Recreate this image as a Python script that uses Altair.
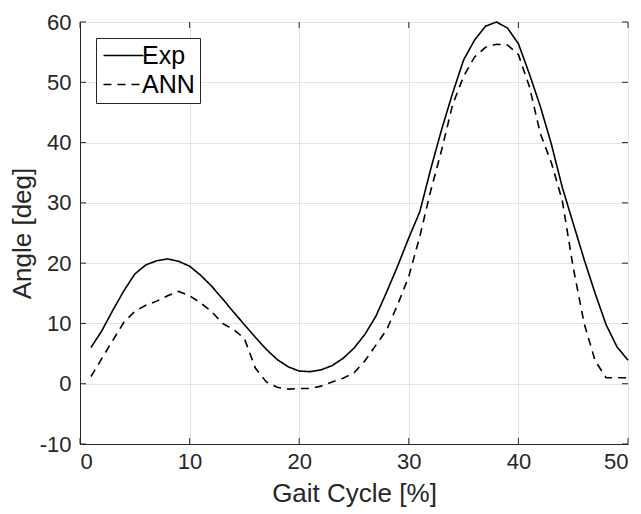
import altair as alt
import pandas as pd

gait = list(range(1, 51))
exp_vals = [6.0, 8.8, 12.2, 15.4, 18.2, 19.7, 20.4, 20.7, 20.3, 19.5,
            18.0, 16.2, 14.1, 11.9, 9.8, 7.7, 5.7, 4.0, 2.8, 2.1,
            2.0, 2.3, 3.0, 4.2, 5.9, 8.2, 11.2, 15.3, 19.6, 24.2,
            28.5, 35.6, 42.2, 48.2, 53.7, 57.0, 59.3, 60.0, 59.0, 56.4,
            51.4, 46.0, 39.8, 32.6, 26.6, 20.6, 15.0, 9.8, 6.1, 3.9]
ann_vals = [1.2, 4.2, 7.2, 10.2, 12.0, 13.0, 13.7, 14.6, 15.3, 14.6,
            13.4, 12.0, 10.0, 9.0, 7.5, 2.6, 0.3, -0.6, -0.9, -0.8,
            -0.8, -0.4, 0.3, 0.9, 1.8, 3.8, 6.4, 9.0, 13.2, 17.8,
            24.4, 32.0, 38.8, 46.3, 51.0, 54.2, 55.8, 56.3, 56.2, 54.6,
            49.3, 41.5, 36.7, 30.4, 19.3, 10.0, 3.8, 1.0, 1.0, 1.0]
series_names = ["Exp", "ANN"]
x_ticks = [0, 10, 20, 30, 40, 50]
y_ticks = [-10, 0, 10, 20, 30, 40, 50, 60]

W, H = 548, 422
FONT = "Liberation Sans"
TXT = "#262626"
AX = "#262626"

df = pd.DataFrame({
    "x": gait * 2,
    "y": exp_vals + ann_vals,
    "series": ["Exp"] * len(gait) + ["ANN"] * len(gait),
})
xt = pd.DataFrame({"x": x_ticks})
yt = pd.DataFrame({"y": y_ticks})

xscale = alt.Scale(domain=[0, 50], nice=False, zero=False)
yscale = alt.Scale(domain=[-10, 60], nice=False, zero=False)

xaxis = alt.Axis(
    values=x_ticks, title="Gait Cycle [%]", grid=True, ticks=False,
    labelPadding=7, labelExpr="'' + datum.value",
    titleX=W / 2, titleY=49, titleBaseline="middle", titleAnchor="middle")
yaxis = alt.Axis(
    values=y_ticks, title="Angle [deg]", grid=True, ticks=False,
    labelPadding=9, labelExpr="'' + datum.value",
    titleX=-58, titleY=H / 2, titleBaseline="middle", titleAnchor="middle")

X = alt.X("x:Q", scale=xscale, axis=xaxis)
Y = alt.Y("y:Q", scale=yscale, axis=yaxis)

lines = alt.Chart(df).mark_line(color="black", strokeWidth=1.6).encode(
    x=X, y=Y,
    strokeDash=alt.StrokeDash("series:N", scale=alt.Scale(
        domain=series_names, range=[[1, 0], [8, 6]]),
        legend=alt.Legend(
            title=None, orient="top-left", offset=16, padding=5,
            strokeColor=AX, fillColor="white", cornerRadius=0,
            labelFontSize=25, labelFont=FONT, labelColor="black",
            symbolType="M-1,0L3,0", symbolSize=400, symbolStrokeWidth=1.5,
            symbolStrokeColor="black", labelOffset=16, rowPadding=3)),
    order="x:Q",
)

xb = alt.Chart(xt).mark_rule(color=AX).encode(x=X, y=alt.value(H), y2=alt.value(H - 6))
xtop = alt.Chart(xt).mark_rule(color=AX).encode(x=X, y=alt.value(0), y2=alt.value(6))
yl = alt.Chart(yt).mark_rule(color=AX).encode(y=Y, x=alt.value(0), x2=alt.value(6))
yr = alt.Chart(yt).mark_rule(color=AX).encode(y=Y, x=alt.value(W), x2=alt.value(W - 6))

chart = alt.layer(lines, xb, xtop, yl, yr).properties(
    width=W, height=H,
    background="white",
    autosize=alt.AutoSizeParams(type="none"),
    padding={"left": 72, "top": 14, "right": 5, "bottom": 70},
).configure_view(
    stroke=AX, strokeWidth=1
).configure_axis(
    domainColor=AX, domainWidth=1,
    gridColor="#e3e3e3", gridWidth=1,
    labelFont=FONT, labelFontSize=22, labelColor=TXT,
    titleFont=FONT, titleFontSize=26, titleColor=TXT, titleFontWeight="normal",
)

chart.save("out.html", embed_options={"renderer": "svg", "actions": False})
